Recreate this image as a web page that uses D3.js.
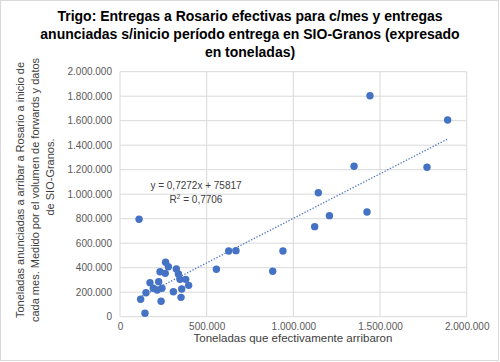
<!DOCTYPE html>
<html>
<head>
<meta charset="utf-8">
<script src="https://cdn.jsdelivr.net/npm/d3@7"></script>
<style>
body { margin: 0; background: #fff; }
svg { display: block; }
</style>
</head>
<body>
<svg></svg>
<script>
// toneladas efectivamente arribadas (x) y anunciadas (y)
const arribadas = [
  1442000, 1890000, 1350000, 1771000, 1144000, 110000, 1208000, 1425000, 1123000,
  627000, 669000, 556000, 940000, 881000,
  263000, 279000, 325000, 231000, 261000, 337000, 346000, 379000, 396000,
  173000, 223000, 192000, 215000, 242000, 150000, 308000, 356000, 352000,
  237000, 119000, 144000
];
const anunciadas = [
  1804000, 1606000, 1228000, 1220000, 1012000, 795000, 825000, 855000, 735000,
  536000, 539000, 387000, 536000, 371000,
  444000, 408000, 389000, 367000, 354000, 349000, 305000, 305000, 256000,
  278000, 286000, 232000, 218000, 232000, 196000, 204000, 226000, 158000,
  126000, 142000, 28000
];
const xTicks = [0, 500000, 1000000, 1500000, 2000000];
const yTicks = [0, 200000, 400000, 600000, 800000, 1000000, 1200000, 1400000, 1600000, 1800000, 2000000];
const pendiente = 0.7272;
const ordenada = 75817;

const titulo = [
  "Trigo: Entregas a Rosario efectivas para c/mes y entregas",
  "anunciadas s/inicio período entrega en SIO-Granos (expresado",
  "en toneladas)"
];
const tituloY = [
  "Toneladas  anunciadas a arribar a Rosario  a inicio de",
  "cada mes. Medido por el volumen de forwards y datos",
  "de SIO-Granos."
];
const tituloX = "Toneladas que efectivamente arribaron";

let width = 500;
let height = 362;
let svg = d3.select("svg").attr("width", width).attr("height", height);

const fmt = d3.formatLocale({decimal: ",", thousands: ".", grouping: [3], currency: ["", ""]}).format(",d");
const font = "'Liberation Sans Narrow', 'Liberation Sans', sans-serif";

// borde del gráfico
svg.append("rect")
   .attr("x", 0.5).attr("y", 0.5)
   .attr("width", width - 2).attr("height", height - 2)
   .attr("fill", "#fff").attr("stroke", "#d9d9d9")

let xScale = d3.scaleLinear().domain([0, 2000000]).range([120, 466.7]);
let yScale = d3.scaleLinear().domain([0, 2000000]).range([316.7, 71.7]);

// grilla
svg.append("g")
   .selectAll("line")
   .data(yTicks)
   .enter()
   .append("line")
   .attr("x1", xScale(0)).attr("x2", xScale(2000000))
   .attr("y1", d => yScale(d)).attr("y2", d => yScale(d))
   .attr("stroke", "#d9d9d9").attr("stroke-width", 1)

svg.append("g")
   .selectAll("line")
   .data(xTicks)
   .enter()
   .append("line")
   .attr("y1", yScale(0)).attr("y2", yScale(2000000))
   .attr("x1", d => xScale(d)).attr("x2", d => xScale(d))
   .attr("stroke", "#d9d9d9").attr("stroke-width", 1)

// ejes
let xAxis = d3.axisBottom(xScale).tickValues(xTicks).tickFormat(fmt).tickSize(0).tickPadding(6);
let yAxis = d3.axisLeft(yScale).tickValues(yTicks).tickFormat(fmt).tickSize(0).tickPadding(8);

let gx = svg.append("g")
   .attr("transform", "translate(0," + yScale(0) + ")")
   .call(xAxis)
let gy = svg.append("g")
   .attr("transform", "translate(" + xScale(0) + ",0)")
   .call(yAxis)

svg.selectAll(".domain").remove();
svg.selectAll(".tick text")
   .attr("fill", "#595959")
   .style("font-family", "'Liberation Sans', sans-serif")
   .style("font-size", "10px")

// línea de tendencia
const xMin = d3.min(arribadas), xMax = d3.max(arribadas);
svg.append("line")
   .attr("x1", xScale(xMin)).attr("y1", yScale(pendiente * xMin + ordenada))
   .attr("x2", xScale(xMax)).attr("y2", yScale(pendiente * xMax + ordenada))
   .attr("stroke", "#4472c4").attr("stroke-width", 1.3)
   .attr("stroke-dasharray", "1.3,1.7")

// puntos
svg.append("g")
   .selectAll("circle")
   .data(arribadas)
   .enter()
   .append("circle")
   .attr("cx", d => xScale(d))
   .attr("cy", (d, i) => yScale(anunciadas[i]))
   .attr("r", 3.7)
   .attr("fill", "#4472c4")

// ecuación
let eq = svg.append("text")
   .attr("x", 196).attr("y", 189)
   .attr("text-anchor", "middle")
   .attr("fill", "#404040")
   .style("font-family", "'Liberation Sans', sans-serif")
   .style("font-size", "10px")
   .text("y = 0,7272x + 75817")
let r2 = svg.append("text")
   .attr("x", 196).attr("y", 203)
   .attr("text-anchor", "middle")
   .attr("fill", "#404040")
   .style("font-family", "'Liberation Sans', sans-serif")
   .style("font-size", "10px")
r2.append("tspan").text("R")
r2.append("tspan").attr("dy", -4).style("font-size", "6.5px").text("2")
r2.append("tspan").attr("dy", 4).text(" = 0,7706")

// título
svg.append("g")
   .selectAll("text")
   .data(titulo)
   .enter()
   .append("text")
   .attr("x", 250)
   .attr("y", (d, i) => 21 + i * 18)
   .attr("text-anchor", "middle")
   .attr("fill", "#000")
   .style("font-family", font)
   .style("font-weight", "bold")
   .style("font-size", "14px")
   .text(d => d)

// título eje Y
svg.append("g")
   .selectAll("text")
   .data(tituloY)
   .enter()
   .append("text")
   .attr("transform", (d, i) => "translate(" + (24 + i * 15) + "," + (i == 2 ? 177 : 190) + ") rotate(-90)")
   .attr("text-anchor", "middle")
   .attr("fill", "#404040")
   .style("font-family", "'Liberation Sans', sans-serif")
   .style("font-size", "11px")
   .text(d => d)

// título eje X
svg.append("text")
   .attr("x", 293).attr("y", 342)
   .attr("text-anchor", "middle")
   .attr("fill", "#404040")
   .style("font-family", "'Liberation Sans', sans-serif")
   .style("font-size", "11.5px")
   .text(tituloX)
</script>
</body>
</html>
